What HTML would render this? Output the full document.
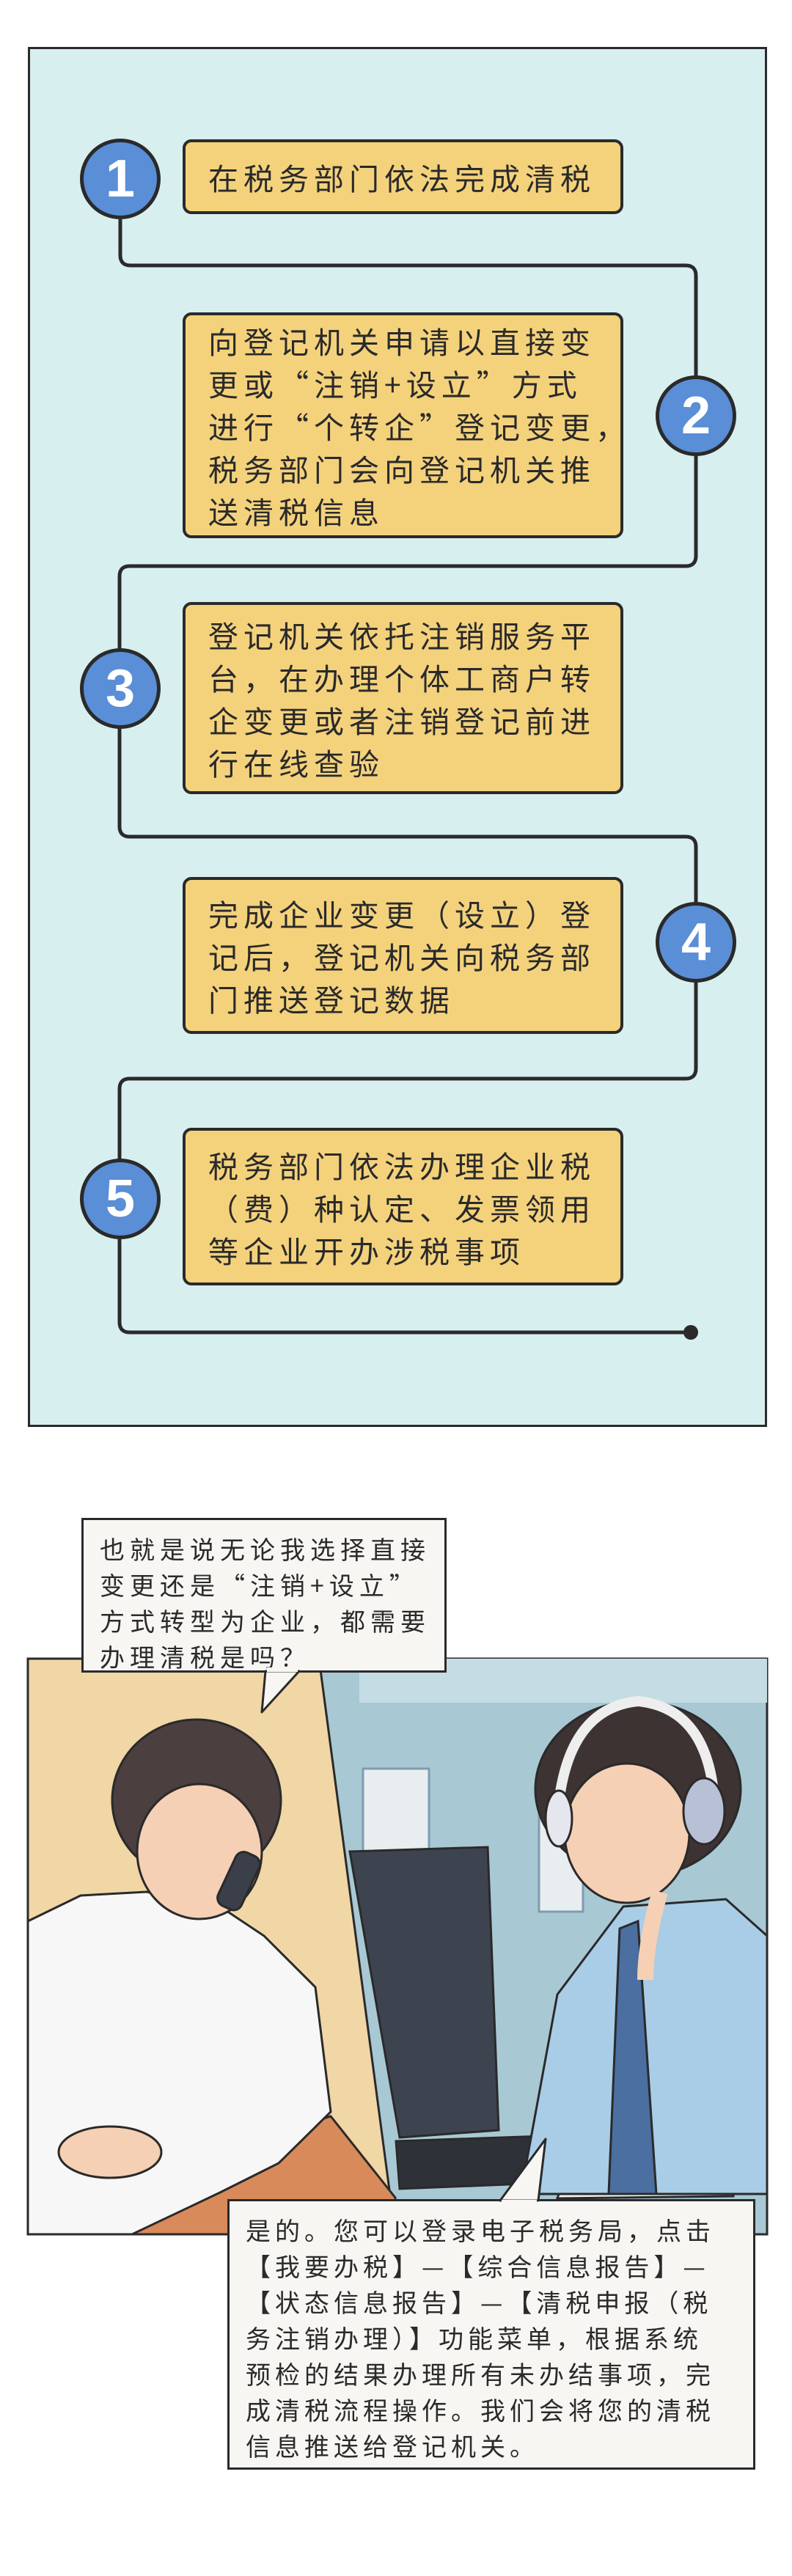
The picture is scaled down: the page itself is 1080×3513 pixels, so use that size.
<!DOCTYPE html>
<html><head><meta charset="utf-8">
<style>
*{margin:0;padding:0;box-sizing:border-box}
body{width:1080px;height:3513px;background:#fff;position:relative;overflow:hidden;font-family:"Noto Sans CJK SC","Liberation Sans",sans-serif;color:#222}
.abs{position:absolute}
.panel{left:38px;top:64px;width:1008px;height:1882px;background:#d8eff0;border:3px solid #2a2a2a}
.box{position:absolute;left:249px;width:601px;background:#f4d27c;border:4px solid #2a2a2a;border-radius:12px;padding:0 0 0 31px;font-size:41px;letter-spacing:7px;line-height:58px;display:flex;align-items:center;color:#2a2a2a;white-space:nowrap}
.num{position:absolute;width:110px;height:110px;border-radius:50%;background:#5a8ed6;border:5px solid #2a2a2a;color:#fff;font-size:72px;line-height:100px;text-align:center;font-family:"Liberation Sans",sans-serif;font-weight:bold}
.bub{position:absolute;background:#f7f6f2;border:3px solid #2a2a2a;font-size:34px;letter-spacing:7px;line-height:49px;color:#2a2a2a;white-space:nowrap}
</style></head><body>
<div class="abs panel"></div>
<svg class="abs" style="left:0;top:0" width="1080" height="2000">
<path d="M164,299 V348 Q164,362 178,362 H935 Q949,362 949,376 V758 Q949,772 935,772 H177 Q163,772 163,786 V1127 Q163,1141 177,1141 H935 Q949,1141 949,1155 V1457 Q949,1471 935,1471 H177 Q163,1471 163,1485 V1803 Q163,1817 177,1817 H942" fill="none" stroke="#2a2a2a" stroke-width="5"/>
<circle cx="942" cy="1817" r="10" fill="#2a2a2a"/>
</svg>
<div class="box" style="top:190px;height:102px"><div>在税务部门依法完成清税</div></div>
<div class="box" style="top:426px;height:308px"><div>向登记机关申请以直接变<br>更或“注销+设立”方式<br>进行“个转企”登记变更，<br>税务部门会向登记机关推<br>送清税信息</div></div>
<div class="box" style="top:821px;height:262px"><div>登记机关依托注销服务平<br>台，在办理个体工商户转<br>企变更或者注销登记前进<br>行在线查验</div></div>
<div class="box" style="top:1196px;height:214px"><div>完成企业变更（设立）登<br>记后，登记机关向税务部<br>门推送登记数据</div></div>
<div class="box" style="top:1538px;height:215px"><div>税务部门依法办理企业税<br>（费）种认定、发票领用<br>等企业开办涉税事项</div></div>
<div class="num" style="left:109px;top:189px">1</div>
<div class="num" style="left:894px;top:512px">2</div>
<div class="num" style="left:109px;top:884px">3</div>
<div class="num" style="left:894px;top:1230px">4</div>
<div class="num" style="left:109px;top:1580px">5</div>

<svg class="abs" style="left:0;top:0" width="1080" height="3513">
<g stroke="#2a2a2a" stroke-width="3">
<rect x="38" y="2262" width="1008" height="785" fill="#a8c8d4"/>
<polygon points="38,2262 435,2262 539,3047 38,3047" fill="#f1d6a6"/>
<rect x="490" y="2262" width="556" height="60" fill="#c4dde4" stroke="none"/>
<rect x="495" y="2412" width="90" height="155" fill="#e8eef0" stroke="#7f9bb0"/>
<rect x="735" y="2432" width="60" height="175" fill="#e8eef0" stroke="#7f9bb0"/>
<polygon points="64,3012 451,2886 539,2997 539,3047 64,3047" fill="#d98a5a"/>
<polygon points="38,2620 110,2585 200,2580 300,2600 360,2640 430,2710 451,2880 380,2950 300,2990 180,3047 38,3047" fill="#f7f7f7"/>
<ellipse cx="268" cy="2455" rx="115" ry="110" fill="#4b3f40"/>
<ellipse cx="272" cy="2525" rx="85" ry="92" fill="#f6d0b4"/>
<rect x="308" y="2525" width="35" height="80" rx="12" fill="#3a3f4a" transform="rotate(25 325 2565)"/>
<ellipse cx="150" cy="2935" rx="70" ry="35" fill="#f6d0b4"/>
<polygon points="477,2525 665,2519 680,2905 545,2915" fill="#3e444f"/>
<polygon points="540,2920 770,2912 790,2975 545,2985" fill="#2e3238"/>
<polygon points="780,2940 1000,2940 1000,2995 760,2998" fill="#f4f5f3"/>
<polygon points="710,2992 760,2720 850,2600 990,2590 1046,2640 1046,2992" fill="#a9cde6"/>
<polygon points="845,2630 870,2620 895,2992 830,2992" fill="#4a6fa0"/>
<ellipse cx="870" cy="2440" rx="140" ry="120" fill="#3d3332"/>
<ellipse cx="855" cy="2500" rx="85" ry="95" fill="#f6d0b4"/>
<path d="M760,2480 Q770,2330 870,2320 Q970,2330 975,2470" fill="none" stroke="#eeeeee" stroke-width="14"/>
<ellipse cx="960" cy="2470" rx="28" ry="45" fill="#b8c0d6"/>
<ellipse cx="762" cy="2480" rx="18" ry="38" fill="#e6e6ee"/>
<path d="M900,2580 Q880,2650 880,2700" fill="none" stroke="#f6d0b4" stroke-width="22"/>
</g>
</svg>

<div class="bub" style="left:111px;top:2070px;width:498px;height:211px;padding:14px 0 0 22px">也就是说无论我选择直接<br>变更还是“注销+设立”<br>方式转型为企业，都需要<br>办理清税是吗？</div>
<svg class="abs" style="left:0;top:0" width="1080" height="3513">
<polygon points="362,2279 408,2279 357,2335" fill="#f7f6f2" stroke="#2a2a2a" stroke-width="3" stroke-linejoin="round"/>
<rect x="364" y="2274" width="42" height="6" fill="#f7f6f2"/>
</svg>
<div class="bub" style="left:310px;top:2999px;width:720px;height:369px;padding:14px 0 0 22px;letter-spacing:6px">是的。您可以登录电子税务局，点击<br>【我要办税】—【综合信息报告】—<br>【状态信息报告】—【清税申报（税<br>务注销办理）】功能菜单，根据系统<br>预检的结果办理所有未办结事项，完<br>成清税流程操作。我们会将您的清税<br>信息推送给登记机关。</div>
<svg class="abs" style="left:0;top:0" width="1080" height="3513">
<polygon points="682,3001 734,3001 744,2917" fill="#f7f6f2" stroke="#2a2a2a" stroke-width="3" stroke-linejoin="round"/>
<rect x="684" y="3000" width="48" height="6" fill="#f7f6f2"/>
</svg>
</body></html>
